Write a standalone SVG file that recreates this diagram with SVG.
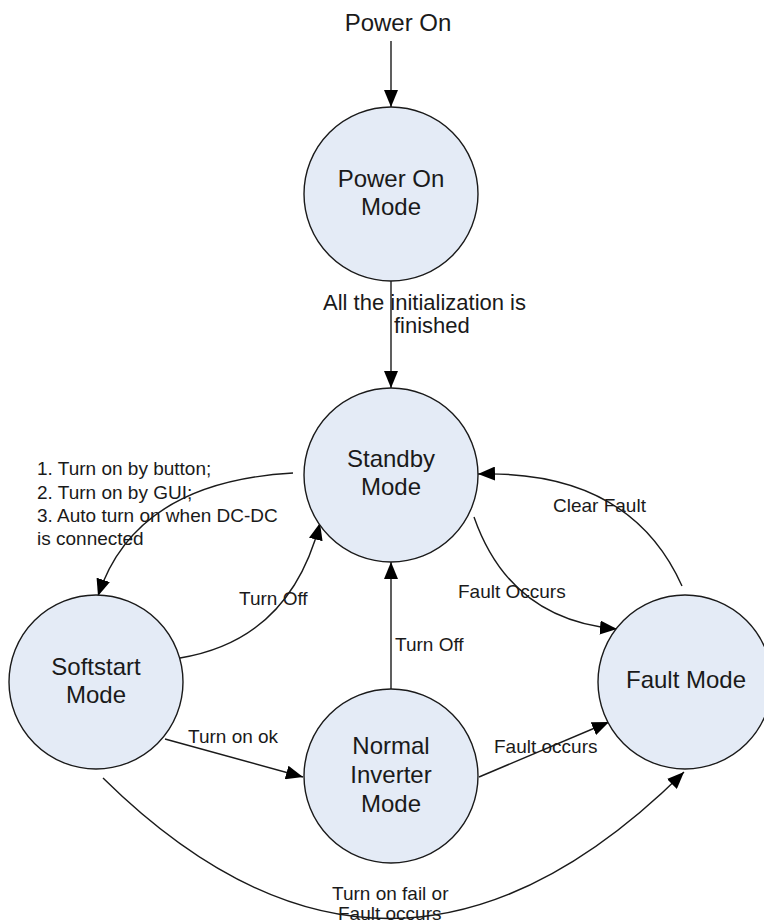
<svg xmlns="http://www.w3.org/2000/svg" width="764" height="924" viewBox="0 0 764 924">
<defs>
<style>
.node{fill:#e4ebf6;stroke:#1a1a1a;stroke-width:1.4}
.nt{font-family:"Liberation Sans",Arial,sans-serif;font-size:24px;fill:#1a1a1a;text-anchor:middle}
.el{font-family:"Liberation Sans",Arial,sans-serif;font-size:19px;fill:#1a1a1a}
.ln{fill:none;stroke:#1a1a1a;stroke-width:1.4}
</style>
<marker id="arr" markerUnits="userSpaceOnUse" markerWidth="18" markerHeight="14" refX="17" refY="7" orient="auto">
<path d="M0,0 L17,7 L0,14 z" fill="#000"/>
</marker>
</defs>
<rect width="764" height="924" fill="#fff"/>
<g id="connectors">
<line class="ln" x1="391" y1="41" x2="391" y2="107" marker-end="url(#arr)"/>
<line class="ln" x1="391" y1="280" x2="391" y2="388" marker-end="url(#arr)"/>
<path class="ln" d="M293,473 Q135,482 98,596" marker-end="url(#arr)"/>
<path class="ln" d="M180,658 Q290,640 320,523" marker-end="url(#arr)"/>
<line class="ln" x1="391" y1="690" x2="391" y2="562" marker-end="url(#arr)"/>
<line class="ln" x1="165" y1="739" x2="303" y2="777" marker-end="url(#arr)"/>
<line class="ln" x1="479" y1="777" x2="609" y2="722" marker-end="url(#arr)"/>
<path class="ln" d="M474,517 Q510,620 617,629" marker-end="url(#arr)"/>
<path class="ln" d="M682,586 Q630,470 478,474" marker-end="url(#arr)"/>
<path class="ln" d="M103,778 Q391,1062 684,772" marker-end="url(#arr)"/>
<text class="nt" x="398" y="31">Power On</text>
<text class="el" style="font-size:22px" x="323" y="310">All the initialization is</text>
<text class="el" style="font-size:22px" x="394" y="333">finished</text>
<text class="el" x="37" y="475">1. Turn on by button;</text>
<text class="el" x="37" y="499">2. Turn on by GUI;</text>
<text class="el" x="37" y="522">3. Auto turn on when DC-DC</text>
<text class="el" x="37" y="545">is connected</text>
<text class="el" x="239" y="605">Turn Off</text>
<text class="el" x="395" y="651">Turn Off</text>
<text class="el" x="188" y="743">Turn on ok</text>
<text class="el" x="494" y="753">Fault occurs</text>
<text class="el" x="458" y="598">Fault Occurs</text>
<text class="el" x="553" y="512">Clear Fault</text>
<text class="el" x="332" y="900">Turn on fail or</text>
<text class="el" x="338" y="920">Fault occurs</text>
</g>
<g id="power-on-mode">
<circle class="node" cx="391" cy="194" r="87"/>
<text class="nt" x="391" y="187">Power On</text>
<text class="nt" x="391" y="215">Mode</text>
</g>
<g id="standby-mode">
<circle class="node" cx="391" cy="475" r="87"/>
<text class="nt" x="391" y="467">Standby</text>
<text class="nt" x="391" y="495">Mode</text>
</g>
<g id="softstart-mode">
<circle class="node" cx="96" cy="682" r="87"/>
<text class="nt" x="96" y="675">Softstart</text>
<text class="nt" x="96" y="703">Mode</text>
</g>
<g id="normal-inverter-mode">
<circle class="node" cx="391" cy="776" r="87"/>
<text class="nt" x="391" y="754">Normal</text>
<text class="nt" x="391" y="783">Inverter</text>
<text class="nt" x="391" y="812">Mode</text>
</g>
<g id="fault-mode">
<circle class="node" cx="685" cy="682" r="87"/>
<text class="nt" x="686" y="688">Fault Mode</text>
</g>
</svg>
